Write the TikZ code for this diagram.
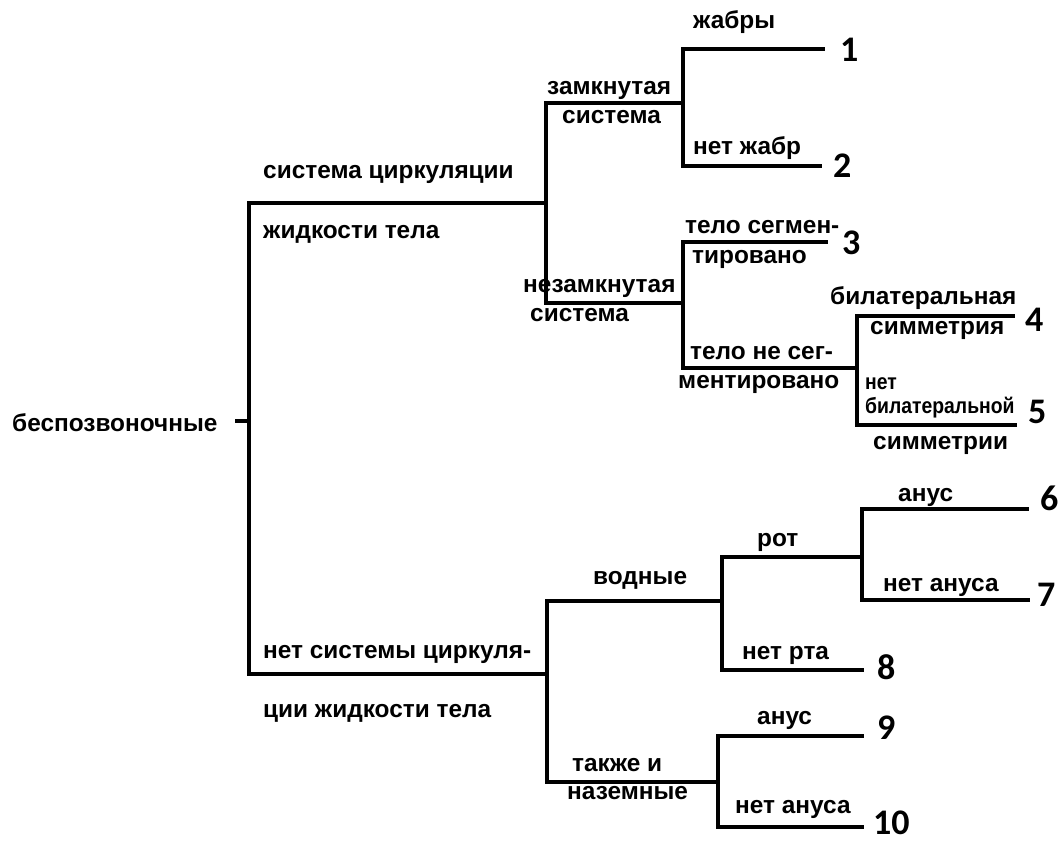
\documentclass[tikz,border=0pt]{standalone}
\usepackage{fontspec}
\setmainfont{Liberation Sans}
\setsansfont{Liberation Sans}
\newfontfamily\numfont{Carlito}
\newfontfamily\narrowfont[FakeStretch=0.88]{Liberation Sans}

\begin{document}
\begin{tikzpicture}[x=1pt,y=-1pt,
  branch/.style={line width=3.5pt, line join=miter, line cap=rect},
  lbl/.style={anchor=base west, inner sep=0pt, yshift=-6.5pt, font=\fontsize{24.4}{28}\selectfont\bfseries},
  small/.style={anchor=base west, inner sep=0pt, yshift=-5.5pt, font=\fontsize{22}{24}\selectfont\narrowfont\bfseries},
  num/.style={anchor=west, inner sep=0pt, font=\fontsize{36}{40}\selectfont\numfont\bfseries}]
  \useasboundingbox (0,0) rectangle (1064,842);

  % junction and end points of the tree
  \coordinate (rootstub) at (237,421);
  \coordinate (rootj) at (249,421);
  \coordinate (m-top) at (249,203);
  \coordinate (m-bot) at (249,674);
  \coordinate (a-j) at (546,203);
  \coordinate (a-top) at (546,103);
  \coordinate (a-bot) at (546,303);
  \coordinate (a1-j) at (683,103);
  \coordinate (a1-top) at (683,49);
  \coordinate (a1-bot) at (683,166);
  \coordinate (a2-j) at (683,303);
  \coordinate (a2-top) at (683,242);
  \coordinate (a2-bot) at (683,368);
  \coordinate (b-j) at (857,368);
  \coordinate (b-top) at (857,316);
  \coordinate (b-bot) at (857,425);
  \coordinate (c-j) at (547,674);
  \coordinate (c-top) at (547,601);
  \coordinate (c-bot) at (547,782);
  \coordinate (c1-j) at (722,601);
  \coordinate (c1-top) at (722,557);
  \coordinate (c1-bot) at (722,670);
  \coordinate (d-j) at (862,557);
  \coordinate (d-top) at (862,509);
  \coordinate (d-bot) at (862,600);
  \coordinate (c2-j) at (718,782);
  \coordinate (c2-top) at (718,736);
  \coordinate (c2-bot) at (718,827);
  \coordinate (e1) at (823,49);
  \coordinate (e2) at (820,166);
  \coordinate (e3) at (826,242);
  \coordinate (e4) at (1013,316);
  \coordinate (e5) at (1015,425);
  \coordinate (e6) at (1027,509);
  \coordinate (e7) at (1028,600);
  \coordinate (e8) at (862,670);
  \coordinate (e9) at (862,736);
  \coordinate (e10) at (862,827);

  % branches
  \draw[branch] (rootstub) -- (rootj);
  \draw[branch] (a-j) -- (m-top) -- (m-bot) -- (c-j);
  \draw[branch] (a1-j) -- (a-top) -- (a-bot) -- (a2-j);
  \draw[branch] (e1) -- (a1-top) -- (a1-bot) -- (e2);
  \draw[branch] (e3) -- (a2-top) -- (a2-bot) -- (b-j);
  \draw[branch] (e4) -- (b-top) -- (b-bot) -- (e5);
  \draw[branch] (c1-j) -- (c-top) -- (c-bot) -- (c2-j);
  \draw[branch] (d-j) -- (c1-top) -- (c1-bot) -- (e8);
  \draw[branch] (e6) -- (d-top) -- (d-bot) -- (e7);
  \draw[branch] (e9) -- (c2-top) -- (c2-bot) -- (e10);

  % leaf numbers
  \node[num] (n1) at (840,50) {1};
  \node[num] (n2) at (833,166) {2};
  \node[num] (n3) at (842,243) {3};
  \node[num] (n4) at (1025,320) {4};
  \node[num] (n5) at (1028,412) {5};
  \node[num] (n6) at (1040,498) {6};
  \node[num] (n7) at (1037,595) {7};
  \node[num] (n8) at (877,667) {8};
  \node[num] (n9) at (877,728) {9};
  \node[num] (n10) at (873,823) {10};

  % labels
  \node[lbl] (root) at (12,425) {беспозвоночные};
  \node[lbl] (circ1) at (263,172) {система циркуляции};
  \node[lbl] (circ2) at (263,232) {жидкости тела};
  \node[lbl] (closed1) at (547,88) {замкнутая};
  \node[lbl] (closed2) at (562,117) {система};
  \node[lbl] (gills) at (693,22) {жабры};
  \node[lbl] (nogills) at (693,148) {нет жабр};
  \node[lbl] (open1) at (523,286) {незамкнутая};
  \node[lbl] (open2) at (530,315) {система};
  \node[lbl] (seg1) at (685,227) {тело сегмен-};
  \node[lbl] (seg2) at (692,257) {тировано};
  \node[lbl] (noseg1) at (690,353) {тело не сег-};
  \node[lbl] (noseg2) at (678,382) {ментировано};
  \node[lbl] (bil1) at (830,298) {билатеральная};
  \node[lbl] (bil2) at (870,328) {симметрия};
  \node[small] (nobil1) at (865,384) {нет};
  \node[small] (nobil2) at (865,408) {билатеральной};
  \node[lbl] (nobil3) at (873,443) {симметрии};
  \node[lbl] (nocirc1) at (263,652) {нет системы циркуля-};
  \node[lbl] (nocirc2) at (263,711) {ции жидкости тела};
  \node[lbl] (water) at (593,578) {водные};
  \node[lbl] (land1) at (572,765) {также и};
  \node[lbl] (land2) at (567,793) {наземные};
  \node[lbl] (mouth) at (757,540) {рот};
  \node[lbl] (nomouth) at (742,653) {нет рта};
  \node[lbl] (anus1) at (898,495) {анус};
  \node[lbl] (noanus1) at (883,585) {нет ануса};
  \node[lbl] (anus2) at (757,718) {анус};
  \node[lbl] (noanus2) at (735,807) {нет ануса};
\end{tikzpicture}
\end{document}
